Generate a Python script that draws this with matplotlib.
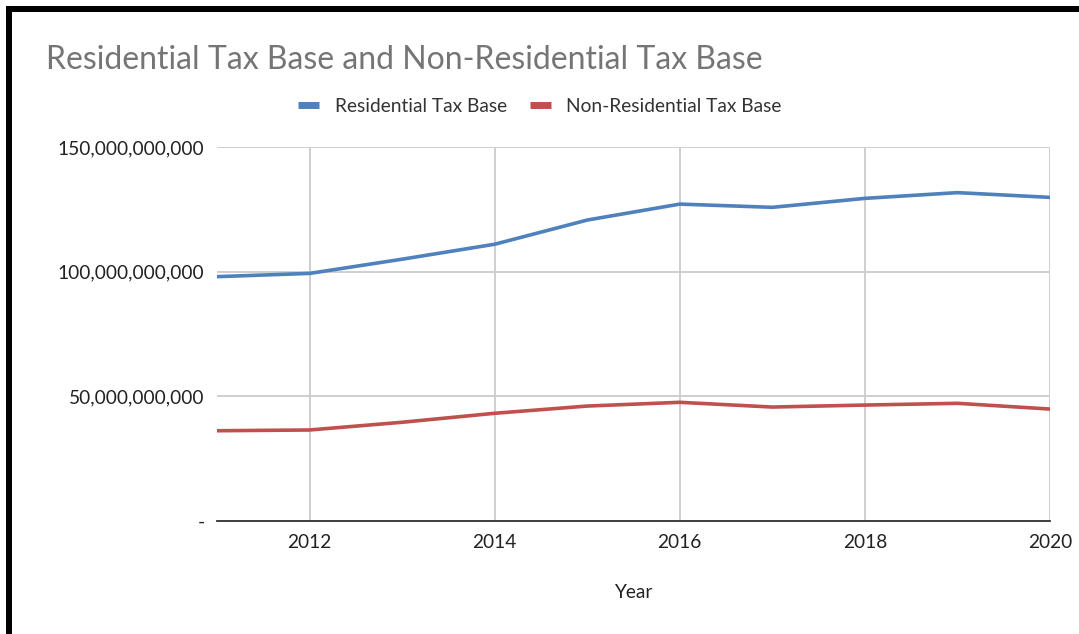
import matplotlib
matplotlib.use('Agg')
import matplotlib.pyplot as plt
from matplotlib.patches import Rectangle
from matplotlib.ticker import FuncFormatter

years = [2011, 2012, 2013, 2014, 2015, 2016, 2017, 2018, 2019, 2020]
residential = [98.0e9, 99.3e9, 105.0e9, 111.0e9, 120.7e9, 127.1e9, 125.8e9, 129.4e9, 131.7e9, 129.8e9]
non_residential = [36.2e9, 36.5e9, 39.6e9, 43.2e9, 46.1e9, 47.6e9, 45.7e9, 46.5e9, 47.2e9, 44.9e9]

plt.rcParams['font.family'] = ['Lato', 'DejaVu Sans']

W, H = 1079, 634
fig = plt.figure(figsize=(W / 100, H / 100), dpi=100)
ax = fig.add_axes([217 / W, 1 - 521 / H, (1050 - 217) / W, (521 - 147) / H])

ax.plot(years, residential, color='#4F81BD', lw=2.6, label='Residential Tax Base')
ax.plot(years, non_residential, color='#C0504D', lw=2.6, label='Non-Residential Tax Base')

ax.set_xlim(2011, 2020)
ax.set_ylim(0, 150e9)
ax.set_xticks([2012, 2014, 2016, 2018, 2020])
ax.set_yticks([0, 50e9, 100e9, 150e9])
ax.yaxis.set_major_formatter(FuncFormatter(lambda v, p: '-' if v == 0 else '{:,.0f}'.format(v)))

ax.grid(True, color='#cccccc', lw=1.3)
ax.set_axisbelow(True)
for s in ['top', 'right', 'left']:
    ax.spines[s].set_visible(False)
ax.spines['bottom'].set_color('#333333')
ax.spines['bottom'].set_linewidth(1.3)
ax.tick_params(length=0, labelsize=13.8, colors='#222222')
ax.tick_params(axis='y', pad=9)
ax.tick_params(axis='x', pad=9)

ax.set_xlabel('Year', fontsize=13.8, color='#222222', labelpad=24)

fig.text(46 / W, 1 - 60 / H, 'Residential Tax Base and Non-Residential Tax Base',
         fontsize=23, color='#757575', va='center', ha='left')

leg = fig.legend(loc='center', bbox_to_anchor=(540 / W, 1 - 106 / H), ncol=2, frameon=False,
                 fontsize=13.8, handlelength=1.1, handleheight=0.5, handletextpad=0.8,
                 columnspacing=1.2)
for t in leg.get_texts():
    t.set_color('#333333')
for h in leg.get_lines():
    h.set_linewidth(5)
    h.set_solid_capstyle('butt')

# black frame on left and top
fig.add_artist(Rectangle((6 / W, 0), 6 / W, 1 - 6 / H, transform=fig.transFigure, color='black', lw=0))
fig.add_artist(Rectangle((6 / W, 1 - 12 / H), 1, 6 / H, transform=fig.transFigure, color='black', lw=0))

fig.savefig('out.png', dpi=100, facecolor='white')
